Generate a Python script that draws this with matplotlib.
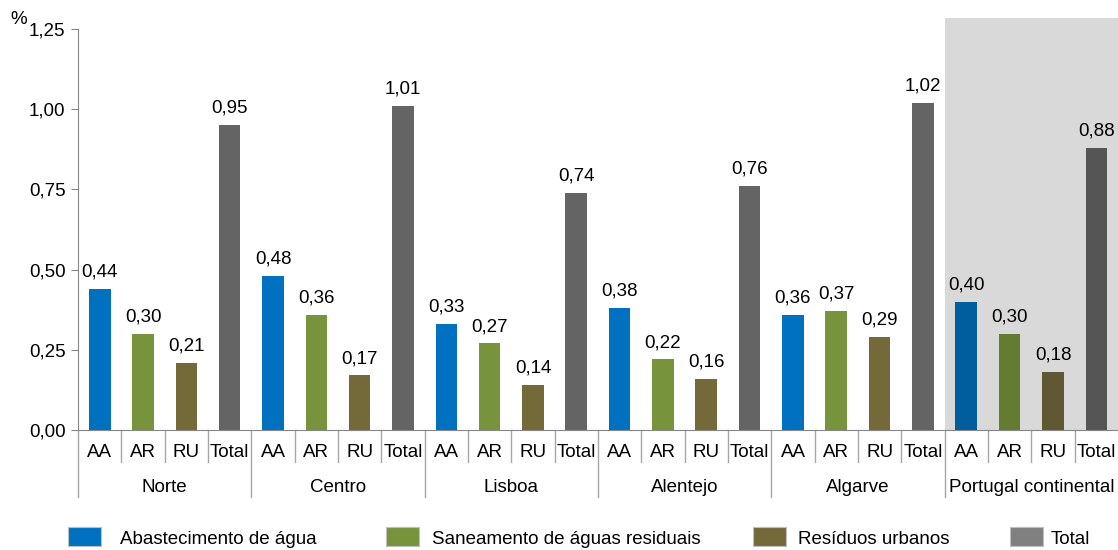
import numpy as np
import matplotlib
matplotlib.use('Agg')
import matplotlib.pyplot as plt
from matplotlib.patches import Rectangle
from matplotlib.ticker import FuncFormatter
import matplotlib.transforms as mtransforms

plt.rcParams['font.family'] = ['Liberation Sans', 'DejaVu Sans']

# Data
regions = ['Norte', 'Centro', 'Lisboa', 'Alentejo', 'Algarve', 'Portugal continental']
components = ['AA', 'AR', 'RU', 'Total']
legend_labels = ['Abastecimento de água', 'Saneamento de águas residuais',
                 'Resíduos urbanos', 'Total']
aa_values = [0.44, 0.48, 0.33, 0.38, 0.36, 0.40]
ar_values = [0.30, 0.36, 0.27, 0.22, 0.37, 0.30]
ru_values = [0.21, 0.17, 0.14, 0.16, 0.29, 0.18]
total_values = [0.95, 1.01, 0.74, 0.76, 1.02, 0.88]

colors = ['#0070C0', '#77933C', '#736939', '#646464']
colors_dark = ['#005D9E', '#637C32', '#605733', '#555555']
legend_colors = ['#0070C0', '#77933C', '#736939', '#808080']

FS = 13.5

fig = plt.figure(figsize=(11.18, 5.5), dpi=100)
ax = fig.add_axes([78 / 1118, 1 - 430 / 550, 1040 / 1118, 401 / 550])

series = [aa_values, ar_values, ru_values, total_values]
n_comp = len(components)

# Grey highlight for the national total group
last = len(regions) - 1
ax.add_patch(Rectangle((last * n_comp - 0.5, 0), n_comp, 1.285,
                       facecolor='#D9D9D9', edgecolor='none', zorder=0, clip_on=False))

for g in range(len(regions)):
    for c in range(n_comp):
        x = g * n_comp + c
        val = series[c][g]
        col = colors_dark[c] if g == last else colors[c]
        ax.bar(x, val, width=0.5, color=col, zorder=2)
        ax.annotate(f'{val:.2f}'.replace('.', ','), (x, val), xytext=(0, 6),
                    textcoords='offset points', ha='center', va='bottom', fontsize=FS)

ax.set_xlim(-0.5, len(regions) * n_comp - 0.5)
ax.set_ylim(0, 1.25)
ax.set_yticks(np.arange(0, 1.26, 0.25))
ax.yaxis.set_major_formatter(FuncFormatter(lambda v, p: f'{v:.2f}'.replace('.', ',')))
ax.tick_params(axis='y', direction='out', length=5, color='#868686', labelsize=FS, pad=4)
ax.set_xticks([])

for side in ['top', 'right']:
    ax.spines[side].set_visible(False)
for side in ['left', 'bottom']:
    ax.spines[side].set_color('#868686')

# Two-level category axis
trans = mtransforms.blended_transform_factory(ax.transData, ax.transAxes)
for g in range(len(regions)):
    for c in range(n_comp):
        x = g * n_comp + c
        ax.text(x, -0.057, components[c], transform=trans, ha='center', va='center', fontsize=FS)
        if c > 0:
            ax.plot([x - 0.5, x - 0.5], [0, -0.08], transform=trans, color='#A6A6A6',
                    lw=1, clip_on=False)
    ax.plot([g * n_comp - 0.5] * 2, [0, -0.167], transform=trans, color='#A6A6A6',
            lw=1, clip_on=False)
    ax.text(g * n_comp + 1.5, -0.143, regions[g], transform=trans, ha='center',
            va='center', fontsize=FS)

fig.text(10 / 1118, 1 - 20 / 550, '%', fontsize=FS, ha='left', va='center')

# Legend
patch_x = [68, 386, 753, 1010]
text_x = [120, 432, 798, 1051]
for px, tx, lab, col in zip(patch_x, text_x, legend_labels, legend_colors):
    fig.patches.append(Rectangle((px / 1118, 1 - 546 / 550), 33 / 1118, 19 / 550,
                                 transform=fig.transFigure, facecolor=col,
                                 edgecolor='#BFBFBF', lw=0.8))
    fig.text(tx / 1118, 1 - 540 / 550, lab, fontsize=FS, ha='left', va='center')

fig.savefig('out.png', dpi=100)
